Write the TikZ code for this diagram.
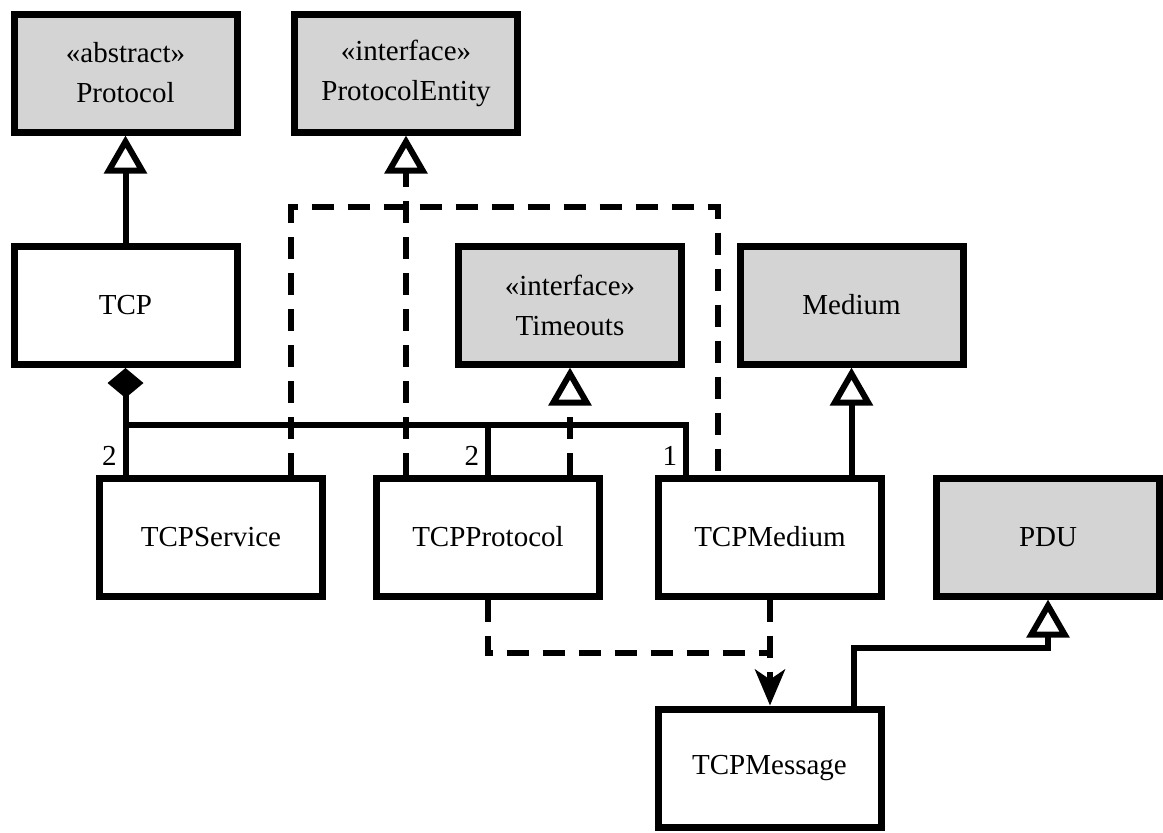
\documentclass[tikz,border=0pt]{standalone}
\usepackage{fontspec}
\setmainfont{Liberation Serif}
\usetikzlibrary{arrows.meta}

\definecolor{boxgrey}{HTML}{D4D4D4}
\newcommand{\umlstereo}[1]{«#1»}

\tikzset{
  classbox/.style = {rectangle, line width = 3.5pt, draw = black, fill = white, inner sep = 0pt,
    minimum width = 111.5pt, minimum height = 59pt, align = center, font = \fontsize{14.5}{20}\selectfont},
  greybox/.style = {classbox, fill = boxgrey},
  gentip/.style = {-{Triangle[length = 19pt, width = 21pt, fill = white]}},
  gen/.style = {line width = 3pt, gentip},
  real/.style = {line width = 3pt, dash pattern = on 11pt off 7pt},
  comp/.style = {line width = 3pt, {Diamond[length = 15pt, width = 18pt]}-},
  assoc/.style = {line width = 3pt},
  dep/.style = {real, -{Stealth[length = 18pt, width = 15pt, inset = 5pt]}},
  mult/.style = {anchor = south east, inner sep = 3pt, font = \fontsize{14.5}{18}\selectfont}
}

\begin{document}
\begin{tikzpicture}[x = 0.5pt, y = -0.5pt]

\useasboundingbox (0, 0) rectangle (1163, 832);

% top row
\node[greybox] (protocol) at (125.5, 73) {\umlstereo{abstract}\\Protocol};
\node[greybox] (entity) at (406, 73) {\umlstereo{interface}\\ProtocolEntity};

% middle row
\node[classbox] (tcp) at (125.5, 305.5) {TCP};
\node[greybox] (timeouts) at (570, 305) {\umlstereo{interface}\\Timeouts};
\node[greybox] (medium) at (851.5, 305) {Medium};

% bottom row
\node[classbox] (service) at (211, 537) {TCPService};
\node[classbox] (tcpproto) at (488, 537) {TCPProtocol};
\node[classbox] (tcpmedium) at (770, 537) {TCPMedium};
\node[greybox] (pdu) at (1048, 537) {PDU};

\node[classbox] (message) at (769.5, 768) {TCPMessage};

\coordinate (compjoin) at (125.5, 425);
\coordinate (realjoin) at (406, 207);
\coordinate (depjoin) at (770, 653);

% generalisation
\draw[gen] (tcp) -- (protocol);
\draw[gen] (medium.south |- tcpmedium.north) -- (medium.south);
\draw[gen] ([xshift = 42pt]message.north) -- ++(0, -58) -| (pdu.south);

% composition
\draw[comp] (tcp.south) -- node[mult, pos = 1] {2} (tcp.south |- service.north);
\draw[assoc] (compjoin) -| node[mult, pos = 1] {2} (tcpproto.north);
\draw[assoc] (compjoin) -| node[mult, pos = 1] {1} ([xshift = -42pt]tcpmedium.north);

% realisation
\draw[real] ([xshift = 40pt]service.north) |- (realjoin) -| ([xshift = -26pt]tcpmedium.north);
\draw[real, gentip] (entity.south |- tcpproto.north) -- (entity.south);
\draw[real, gentip] (timeouts.south |- tcpproto.north) -- (timeouts.south);

% usage
\draw[real] (tcpproto.south) |- (depjoin);
\draw[dep] (tcpmedium.south) -- (tcpmedium.south |- message.north);

\end{tikzpicture}
\end{document}
